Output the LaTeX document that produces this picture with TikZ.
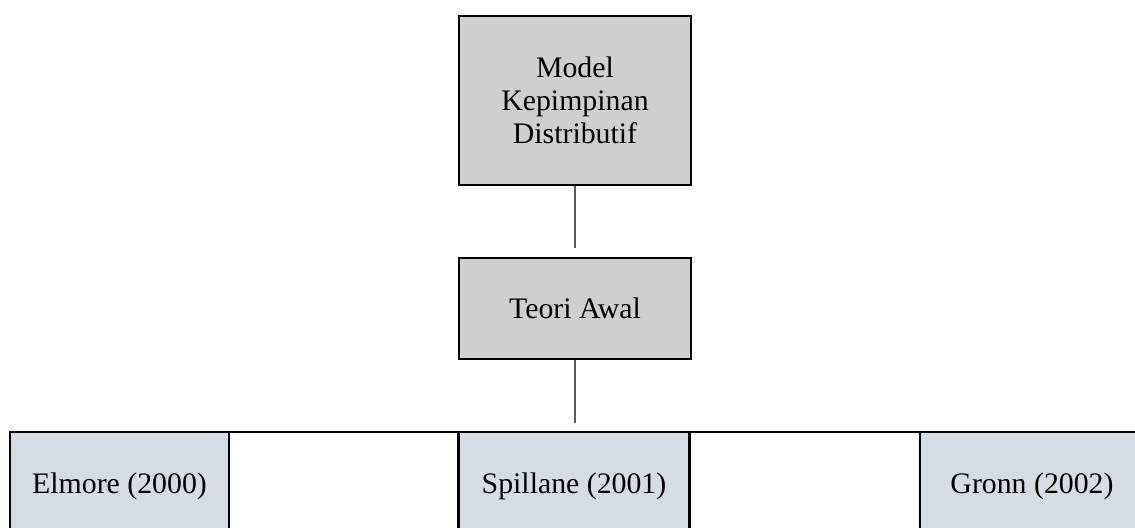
\documentclass[tikz,border=0pt]{standalone}
\usepackage{fontspec}
\setmainfont{Liberation Serif}
\definecolor{boxgray}{RGB}{208,206,206}
\definecolor{boxblue}{RGB}{214,220,228}
\definecolor{linkgray}{RGB}{89,89,89}
\begin{document}
\begin{tikzpicture}[x=0.5pt,y=0.5pt,font=\fontsize{14.9}{16.6}\selectfont,
	topbox/.style={draw=black,line width=1.25pt,fill=boxgray,align=center,inner sep=0pt},
	authorbox/.style={draw=black,line width=1.25pt,fill=boxblue,inner sep=0pt,minimum height=54pt},
	link/.style={draw=linkgray,line width=0.65pt,shorten >=4.5pt}]
	\useasboundingbox (0,0) rectangle (1135,528);
	\clip (0,0) rectangle (1135,528);

	%top boxes
	\node[topbox,minimum width=116pt,minimum height=84.5pt] (model) at (575,427.5) {Model\\Kepimpinan\\Distributif}; %model
	\node[topbox,minimum width=116pt,minimum height=50.5pt] (teori) at (575,219.3) {Teori Awal}; %teori awal

	%bottom row
	\coordinate (rowleft) at (10,96); %row start
	\coordinate (rowright) at (1144,96); %row end
	\draw[line width=1pt] (rowleft) -- (rowright); %row line
	\node[authorbox,minimum width=109.5pt] (elmore) at (119.5,42) {Elmore (2000)}; %author 1
	\node[authorbox,minimum width=115.5pt] (spillane) at (574,42) {Spillane (2001)}; %author 2
	\node[authorbox,minimum width=112pt] (gronn) at (1032,42) {Gronn (2002)}; %author 3

	%links
	\draw[link] (model.south) -- (teori.north); %model to teori
	\draw[link] (teori.south) -- (teori.south |- rowleft); %teori to row
\end{tikzpicture}
\end{document}
